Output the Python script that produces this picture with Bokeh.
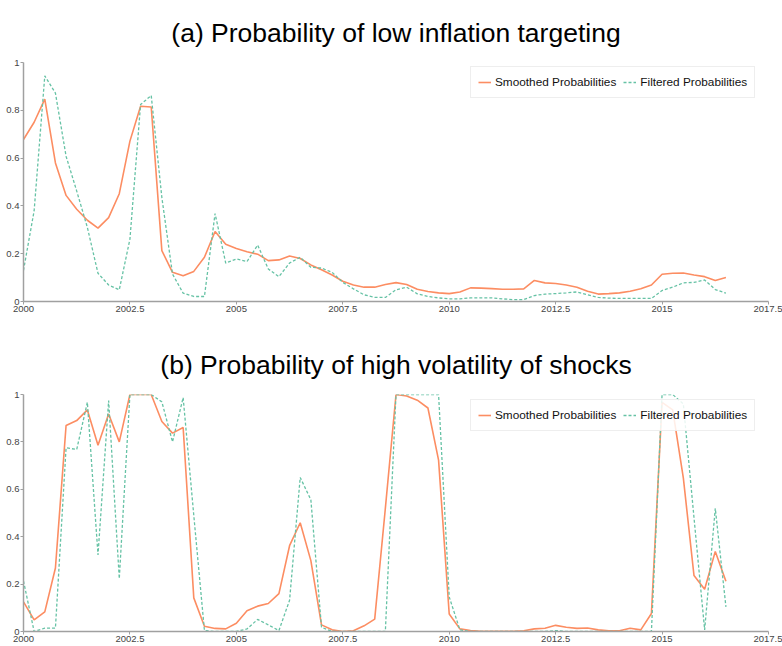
from bokeh.plotting import figure
from bokeh.layouts import column
from bokeh.models import FixedTicker, Legend, LegendItem, Range1d
from bokeh.embed import file_html
from bokeh.resources import INLINE

# quarterly observations 2000Q1 .. 2016Q3
quarters = [2000 + 0.25 * i for i in range(67)]

low_infl_smoothed = [
    0.678, 0.750, 0.847, 0.580, 0.444, 0.386, 0.340, 0.307, 0.351, 0.451,
    0.671, 0.817, 0.814, 0.213, 0.122, 0.108, 0.126, 0.185, 0.293, 0.240,
    0.222, 0.208, 0.198, 0.171, 0.174, 0.190, 0.180, 0.153, 0.133, 0.111,
    0.085, 0.069, 0.060, 0.060, 0.071, 0.079, 0.071, 0.051, 0.042, 0.036,
    0.033, 0.040, 0.057, 0.056, 0.054, 0.051, 0.051, 0.053, 0.088, 0.078,
    0.075, 0.069, 0.060, 0.043, 0.031, 0.033, 0.036, 0.043, 0.053, 0.069,
    0.114, 0.118, 0.119, 0.111, 0.104, 0.088, 0.100,
]
low_infl_filtered = [
    0.130, 0.380, 0.944, 0.872, 0.608, 0.462, 0.310, 0.118, 0.069, 0.049,
    0.261, 0.824, 0.862, 0.435, 0.115, 0.035, 0.021, 0.021, 0.368, 0.161,
    0.178, 0.167, 0.236, 0.136, 0.104, 0.161, 0.185, 0.143, 0.140, 0.122,
    0.080, 0.053, 0.028, 0.017, 0.017, 0.049, 0.060, 0.032, 0.021, 0.015,
    0.011, 0.011, 0.015, 0.015, 0.015, 0.011, 0.008, 0.008, 0.025, 0.031,
    0.033, 0.036, 0.040, 0.028, 0.017, 0.014, 0.013, 0.013, 0.013, 0.013,
    0.046, 0.060, 0.078, 0.080, 0.090, 0.050, 0.035,
]
high_vol_smoothed = [
    0.125, 0.049, 0.083, 0.268, 0.869, 0.890, 0.935, 0.786, 0.918, 0.800,
    1.000, 1.000, 1.000, 0.886, 0.837, 0.861, 0.142, 0.022, 0.013, 0.011,
    0.035, 0.088, 0.107, 0.118, 0.160, 0.362, 0.459, 0.299, 0.028, 0.007,
    0.000, 0.003, 0.024, 0.052, 0.520, 1.000, 0.994, 0.976, 0.943, 0.723,
    0.074, 0.011, 0.004, 0.001, 0.001, 0.001, 0.001, 0.003, 0.011, 0.014,
    0.026, 0.018, 0.013, 0.015, 0.007, 0.003, 0.003, 0.014, 0.007, 0.076,
    0.967, 0.935, 0.647, 0.236, 0.178, 0.338, 0.212,
]
high_vol_filtered = [
    0.213, 0.000, 0.014, 0.014, 0.775, 0.768, 0.967, 0.323, 0.974, 0.223,
    1.000, 1.000, 1.000, 0.969, 0.800, 0.987, 0.490, 0.004, 0.000, 0.000,
    0.000, 0.011, 0.051, 0.028, 0.004, 0.132, 0.650, 0.556, 0.018, 0.000,
    0.000, 0.000, 0.000, 0.000, 0.000, 1.000, 1.000, 1.000, 1.000, 1.000,
    0.146, 0.007, 0.000, 0.000, 0.000, 0.000, 0.000, 0.000, 0.000, 0.000,
    0.004, 0.000, 0.000, 0.000, 0.000, 0.000, 0.000, 0.000, 0.000, 0.000,
    1.000, 1.000, 0.960, 0.480, 0.007, 0.520, 0.104,
]

x_ticks = [2000, 2002.5, 2005, 2007.5, 2010, 2012.5, 2015, 2017.5]
x_tick_labels = ["2000", "2002.5", "2005", "2007.5", "2010", "2012.5", "2015", "2017.5"]
y_ticks = [0, 0.2, 0.4, 0.6, 0.8, 1]
y_tick_labels = ["0", "0.2", "0.4", "0.6", "0.8", "1"]

titles = ["(a) Probability of low inflation targeting",
          "(b) Probability of high volatility of shocks"]
series_names = ["Smoothed Probabilities", "Filtered Probabilities"]

SMOOTH_COLOR = "#fc8d62"
FILTER_COLOR = "#66c2a5"
AXIS_COLOR = "#a0a0a0"
FONT = "Liberation Sans"


def make_panel(title, smoothed, filtered, height, top, bottom, frame_h):
    p = figure(width=782, height=height,
               x_range=Range1d(2000, 2017.5), y_range=Range1d(0, 1),
               output_backend="svg", toolbar_location=None,
               min_border_left=23, min_border_right=14,
               min_border_top=top, min_border_bottom=bottom,
               title=title)
    p.title.text_font = FONT
    p.title.text_font_size = "26.5px"
    p.title.text_font_style = "normal"
    p.title.text_color = "#000000"
    p.title.align = "center"
    p.title.standoff = 30
    p.title.text_line_height = 1.0

    p.xgrid.visible = False
    p.ygrid.visible = False
    p.outline_line_color = None
    p.background_fill_color = "white"
    p.border_fill_color = "white"

    for ax in (p.xaxis[0], p.yaxis[0]):
        ax.axis_line_color = AXIS_COLOR
        ax.axis_line_width = 1.5
        ax.major_tick_line_color = AXIS_COLOR
        ax.major_tick_line_width = 1
        ax.major_tick_out = 3
        ax.major_tick_in = 0
        ax.minor_tick_line_color = None
        ax.major_label_text_font = FONT
        ax.major_label_text_font_size = "9.5px"
        ax.major_label_text_color = "#444444"
        ax.major_label_standoff = 1

    p.xaxis[0].ticker = FixedTicker(ticks=x_ticks)
    p.xaxis[0].major_label_overrides = dict(zip(x_ticks, x_tick_labels))
    p.yaxis[0].ticker = FixedTicker(ticks=y_ticks)
    p.yaxis[0].major_label_overrides = dict(zip(y_ticks, y_tick_labels))

    r_s = p.line(quarters, smoothed, line_color=SMOOTH_COLOR, line_width=1.6)
    r_f = p.line(quarters, filtered, line_color=FILTER_COLOR, line_width=1.3,
                 line_dash="3 2")

    legend = Legend(items=[LegendItem(label=series_names[0], renderers=[r_s]),
                           LegendItem(label=series_names[1], renderers=[r_f])],
                    orientation="horizontal", location=(447, frame_h - 37))
    legend.label_text_font = FONT
    legend.label_text_font_size = "11.8px"
    legend.label_text_color = "#111111"
    legend.padding = 7
    legend.spacing = 7
    legend.margin = 0
    legend.glyph_width = 13
    legend.glyph_height = 16
    legend.label_height = 16
    legend.label_standoff = 4
    legend.border_line_color = "#dddddd"
    legend.border_line_width = 1
    legend.background_fill_color = "white"
    legend.background_fill_alpha = 0.85
    p.add_layout(legend)
    return p


p1 = make_panel(titles[0], low_infl_smoothed, low_infl_filtered, 316, 61, 15, 240)
p2 = make_panel(titles[1], high_vol_smoothed, high_vol_filtered, 330, 78, 15, 237)

layout = column(p1, p2, spacing=0)
open("out.html", "w").write(file_html(layout, INLINE))
